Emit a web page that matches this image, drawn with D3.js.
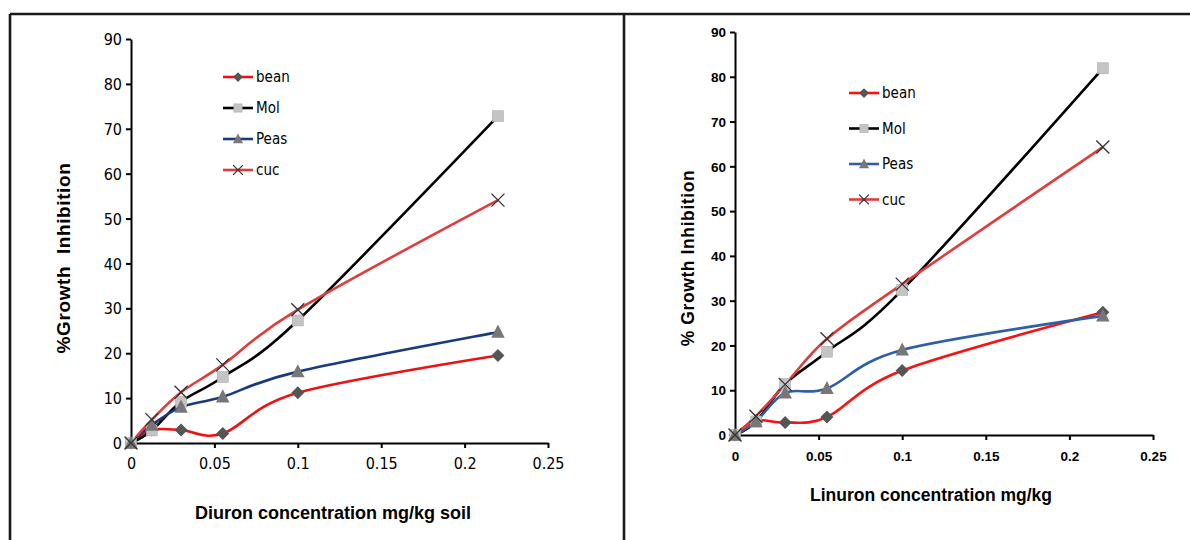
<!DOCTYPE html>
<html>
<head>
<meta charset="utf-8">
<script src="https://cdn.jsdelivr.net/npm/d3@7"></script>
<style>
  body { margin: 0; background: #fff; }
  svg { display: block; }
</style>
</head>
<body>
<div id="chart"></div>
<script>
// concentrations (mg/kg) shared by both panels
const conc = [0, 0.0125, 0.03, 0.055, 0.1, 0.22];
const xTicks = [0, 0.05, 0.1, 0.15, 0.2, 0.25];
const yTicks = [0, 10, 20, 30, 40, 50, 60, 70, 80, 90];
const seriesNames = ["bean", "Mol", "Peas", "cuc"];

// Diuron panel
const diuronBean = [0, 2.9, 2.9, 2.1, 11.2, 19.5];
const diuronMol = [0, 2.8, 9.2, 14.7, 27.3, 72.8];
const diuronPeas = [0, 4.0, 8.0, 10.3, 15.9, 24.7];
const diuronCuc = [0, 5.2, 11.3, 17.4, 29.7, 54.1];

// Linuron panel
const linuronBean = [0, 3.2, 2.8, 4.0, 14.4, 27.4];
const linuronMol = [0, 3.0, 11.4, 18.6, 32.4, 81.9];
const linuronPeas = [0, 3.0, 9.4, 10.4, 19.0, 26.6];
const linuronCuc = [0, 4.2, 11.3, 21.5, 33.7, 64.3];

const W = 1190, H = 540;
const narrow = "'Liberation Sans Narrow', 'Arial Narrow', 'DejaVu Sans Condensed', sans-serif";
const arial = "Arial, 'Liberation Sans', sans-serif";
const svg = d3.select("#chart").append("svg").attr("width", W).attr("height", H);

// frame lines
svg.append("line").attr("x1", 10).attr("x2", W).attr("y1", 14).attr("y2", 14)
    .attr("stroke", "#1a1a1a").attr("stroke-width", 2.6);
svg.append("line").attr("x1", 10).attr("x2", 10).attr("y1", 14).attr("y2", H)
    .attr("stroke", "#1a1a1a").attr("stroke-width", 2.6);
svg.append("line").attr("x1", 624).attr("x2", 624).attr("y1", 14).attr("y2", H)
    .attr("stroke", "#1a1a1a").attr("stroke-width", 2.6);

function drawPanel(cfg) {
    const x = d3.scaleLinear().domain([0, 0.25]).range([cfg.x0, cfg.x1]);
    const y = d3.scaleLinear().domain([0, 90]).range([cfg.y0, cfg.y1]);
    const g = svg.append("g");

    const xAxis = g.append("g").attr("transform", `translate(0,${cfg.y0})`)
        .call(d3.axisBottom(x).tickValues(xTicks).tickSize(5).tickSizeOuter(0)
            .tickFormat(d => d === 0 ? "0" : String(d)));
    const yAxis = g.append("g").attr("transform", `translate(${cfg.x0},0)`)
        .call(d3.axisLeft(y).tickValues(yTicks).tickSize(5).tickSizeOuter(0));

    [xAxis, yAxis].forEach(a => {
        a.select(".domain").attr("stroke", "#000").attr("stroke-width", 2);
        a.selectAll(".tick line").attr("stroke", "#000").attr("stroke-width", 2);
        a.selectAll("text").attr("fill", "#000")
            .style("font-family", cfg.tickFont)
            .style("font-size", cfg.tickSize + "px")
            .style("font-weight", cfg.tickWeight);
    });
    xAxis.selectAll("text").attr("dy", cfg.xTickDy);
    yAxis.selectAll("text").attr("x", -9).attr("dy", "0.35em");

    // axis titles
    g.append("text")
        .attr("transform", `translate(${cfg.yTitleX},${cfg.yTitleY}) rotate(-90)`)
        .attr("text-anchor", "middle")
        .style("font-family", arial)
        .style("font-weight", "bold").style("font-size", cfg.yTitleSize + "px")
        .style("letter-spacing", "0.6px")
        .style("white-space", "pre")
        .text(cfg.yTitle);
    g.append("text")
        .attr("x", cfg.xTitleX).attr("y", cfg.xTitleY)
        .attr("text-anchor", "middle")
        .style("font-family", arial)
        .style("font-weight", "bold").style("font-size", cfg.xTitleSize + "px")
        .text(cfg.xTitle);

    const line = d3.line().x(d => x(d[0])).y(d => y(d[1])).curve(d3.curveCatmullRom.alpha(0));

    const series = cfg.values.map((vals, i) => ({
        name: seriesNames[i],
        pts: conc.map((c, j) => [c, vals[j]]),
        color: cfg.colors[i]
    }));

    series.forEach(s => {
        g.append("path").datum(s.pts).attr("d", line)
            .attr("fill", "none").attr("stroke", s.color).attr("stroke-width", 2.6);
    });

    // markers drawn after all lines
    series.forEach((s, i) => {
        s.pts.forEach(p => drawMarker(g, i, x(p[0]), y(p[1])));
    });

    // legend
    series.forEach((s, i) => {
        const ly = cfg.legY + i * cfg.legStep;
        g.append("line").attr("x1", cfg.legX).attr("x2", cfg.legX + 30)
            .attr("y1", ly).attr("y2", ly).attr("stroke", s.color).attr("stroke-width", 2.6);
        drawMarker(g, i, cfg.legX + 15, ly, 0.75);
        g.append("text").attr("x", cfg.legX + 33).attr("y", ly).attr("dy", "0.35em")
            .style("font-family", narrow)
            .style("font-size", "15px").attr("fill", "#000")
            .text(s.name);
    });
}

function drawMarker(g, type, cx, cy, k = 1) {
    if (type === 0) {
        const r = 6.5 * k;
        g.append("path").attr("d", `M${cx},${cy - r}L${cx + r},${cy}L${cx},${cy + r}L${cx - r},${cy}Z`)
            .attr("fill", "#555555");
    } else if (type === 1) {
        const s = 11 * k;
        g.append("rect").attr("x", cx - s / 2).attr("y", cy - s / 2).attr("width", s).attr("height", s)
            .attr("fill", "#c4c4c4").attr("stroke", "#b0b0b0").attr("stroke-width", 0.6);
    } else if (type === 2) {
        const r = 7.5 * k;
        g.append("path").attr("d", `M${cx},${cy - r}L${cx + r * 0.9},${cy + r * 0.75}L${cx - r * 0.9},${cy + r * 0.75}Z`)
            .attr("fill", "#777777");
    } else {
        const r = 6.5 * k;
        g.append("path").attr("d", `M${cx - r},${cy - r}L${cx + r},${cy + r}M${cx - r},${cy + r}L${cx + r},${cy - r}`)
            .attr("stroke", "#333").attr("stroke-width", 1.3).attr("fill", "none");
    }
}

drawPanel({
    x0: 131, x1: 548, y0: 443, y1: 39,
    tickFont: narrow, tickSize: 16, tickWeight: "normal", xTickDy: "1.15em",
    yTitle: "%Growth  Inhibition", yTitleX: 70, yTitleY: 258, yTitleSize: 19,
    xTitle: "Diuron concentration mg/kg soil", xTitleX: 333, xTitleY: 519, xTitleSize: 18,
    values: [diuronBean, diuronMol, diuronPeas, diuronCuc],
    colors: ["#ee1111", "#000000", "#1a3a80", "#e03c3c"],
    legX: 223, legY: 77, legStep: 31
});

drawPanel({
    x0: 735, x1: 1153, y0: 435, y1: 32,
    tickFont: arial, tickSize: 13.5, tickWeight: "bold", xTickDy: "1.3em",
    yTitle: "% Growth Inhibition", yTitleX: 694, yTitleY: 258, yTitleSize: 17.5,
    xTitle: "Linuron concentration mg/kg", xTitleX: 931, xTitleY: 501, xTitleSize: 17.5,
    values: [linuronBean, linuronMol, linuronPeas, linuronCuc],
    colors: ["#ff1010", "#000000", "#2f5fa5", "#e03c3c"],
    legX: 849, legY: 93, legStep: 35.5
});
</script>
</body>
</html>
